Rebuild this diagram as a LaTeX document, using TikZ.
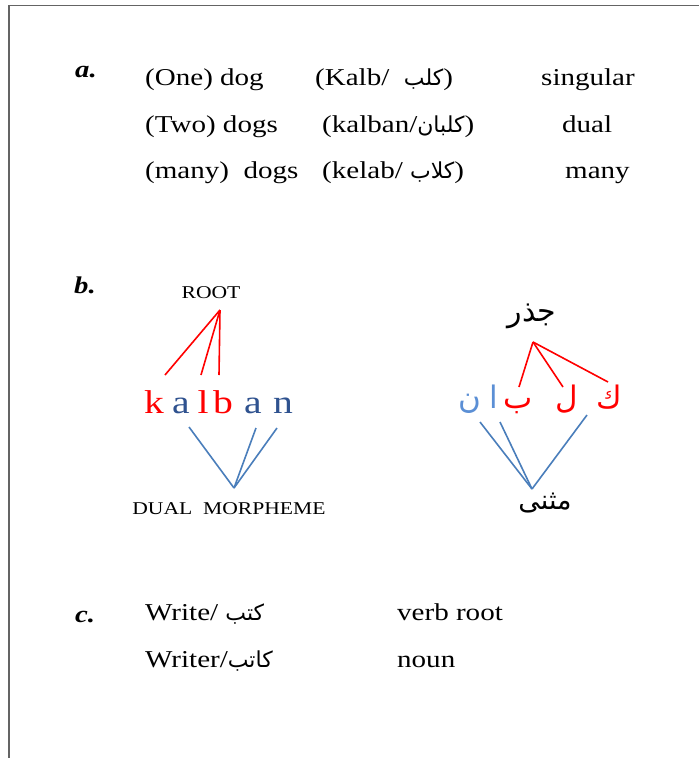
\documentclass[tikz,border=0pt]{standalone}
\usepackage{fontspec}
\setmainfont{Liberation Serif}[FakeStretch=1.2]
\newfontfamily\arabicfont[Script=Arabic]{DejaVu Sans}
\TeXXeTstate=1
\definecolor{rootred}{RGB}{255,0,0}
\definecolor{darkblue}{RGB}{47,82,143}
\definecolor{lineblue}{RGB}{74,126,187}
\definecolor{lightblue}{RGB}{91,143,213}
\definecolor{framegray}{RGB}{100,100,100}
\newcommand{\ar}[2]{{\arabicfont\fontsize{#1}{#1}\selectfont\beginR #2\endR}}
\begin{document}
\begin{tikzpicture}[x=1pt,y=-1pt,
  txt/.style={inner sep=0pt, anchor=base west, font=\fontsize{24.2}{24.2}\selectfont},
  lbl/.style={inner sep=0pt, anchor=base west, font=\fontsize{24}{24}\selectfont\bfseries\itshape},
  caps/.style={inner sep=0pt, anchor=base, font=\fontsize{18}{18}\selectfont},
  latlet/.style={inner sep=0pt, anchor=base, font=\fontsize{33}{33}\selectfont},
  arlet/.style={inner sep=0pt, anchor=base, font=\arabicfont\fontsize{31}{31}\selectfont},
  redline/.style={draw=rootred, line width=1.6pt},
  blueline/.style={draw=lineblue, line width=1.6pt},
  frame/.style={draw=framegray, line width=1.3pt}]
\useasboundingbox (0,0) rectangle (699,758);
\fill[white] (0,0) rectangle (699,758);
% frame
\coordinate (fTL) at (9,5.5);
\coordinate (fTR) at (699,5.5);
\coordinate (fBL) at (9,758);
\draw[frame] (fTR) -- (fTL) -- (fBL);

% section a
\node[lbl] (la) at (75,77) {a.};
\node[txt] (a11) at (145,85) {(One) dog};
\node[txt] (a12) at (315,85) {(Kalb/\ \ \ar{22}{كلب})};
\node[txt] (a13) at (541,85) {singular};
\node[txt] (a21) at (145,132) {(Two) dogs};
\node[txt] (a22) at (322,132) {(kalban/\ar{22}{كلبان})};
\node[txt] (a23) at (562,132) {dual};
\node[txt] (a31) at (145,178) {(many)\ \ dogs};
\node[txt] (a32) at (322,178) {(kelab/\ \ar{22}{كلاب})};
\node[txt] (a33) at (565,178) {many};

% section b
\node[lbl] (lb) at (74,293) {b.};
\node[caps] (root) at (211,298) {ROOT};
\node[latlet, text=rootred] (k) at (154,413) {k};
\node[latlet, text=darkblue] (a1) at (181,413) {a};
\node[latlet, text=rootred] (l) at (203,413) {l};
\node[latlet, text=rootred] (b) at (223,413) {b};
\node[latlet, text=darkblue] (a2) at (253,413) {a};
\node[latlet, text=darkblue] (n) at (283,413) {n};
\node[caps] (dual) at (229,514) {DUAL\ \ MORPHEME};

\coordinate (rA) at (220,310);
\coordinate (rk) at (165,375);
\coordinate (rl) at (201,375);
\coordinate (rb) at (219,375);
\draw[redline] (rA) -- (rk);
\draw[redline] (rA) -- (rl);
\draw[redline] (rA) -- (rb);
\coordinate (dA) at (234,488);
\coordinate (da1) at (189,427);
\coordinate (da2) at (256,428);
\coordinate (dn) at (277,428);
\draw[blueline] (dA) -- (da1);
\draw[blueline] (dA) -- (da2);
\draw[blueline] (dA) -- (dn);

% arabic tree
\node[inner sep=0pt, anchor=center, font=\arabicfont\fontsize{30}{30}\selectfont] (jidhr) at (532,316) {\beginR جذر\endR};
\node[arlet, text=rootred] (kaf) at (609,408) {\beginR ك\endR};
\node[arlet, text=rootred] (lam) at (567,408) {\beginR ل\endR};
\node[arlet, text=rootred] (ba) at (518,408) {\beginR ب\endR};
\node[arlet, text=lightblue] (alif) at (494,408) {\beginR ا\endR};
\node[arlet, text=lightblue] (nun) at (470,408) {\beginR ن\endR};
\node[inner sep=0pt, anchor=center, font=\arabicfont\fontsize{27}{27}\selectfont] (muthanna) at (545,503) {\beginR مثنى\endR};

\coordinate (jA) at (533,342);
\coordinate (jb) at (519,387);
\coordinate (jl) at (563,387);
\coordinate (jk) at (608,382);
\draw[redline] (jA) -- (jb);
\draw[redline] (jA) -- (jl);
\draw[redline] (jA) -- (jk);
\coordinate (mA) at (532,489);
\coordinate (mn) at (480,422);
\coordinate (ma) at (500,422);
\coordinate (mk) at (587,415);
\draw[blueline] (mA) -- (mn);
\draw[blueline] (mA) -- (ma);
\draw[blueline] (mA) -- (mk);

% section c
\node[lbl] (lc) at (75,622) {c.};
\node[txt] (c11) at (145,620) {Write/\ \ar{22}{كتب}};
\node[txt] (c12) at (397,620) {verb root};
\node[txt] (c21) at (145,667) {Writer/\ar{22}{كاتب}};
\node[txt] (c22) at (397,667) {noun};
\end{tikzpicture}
\end{document}
